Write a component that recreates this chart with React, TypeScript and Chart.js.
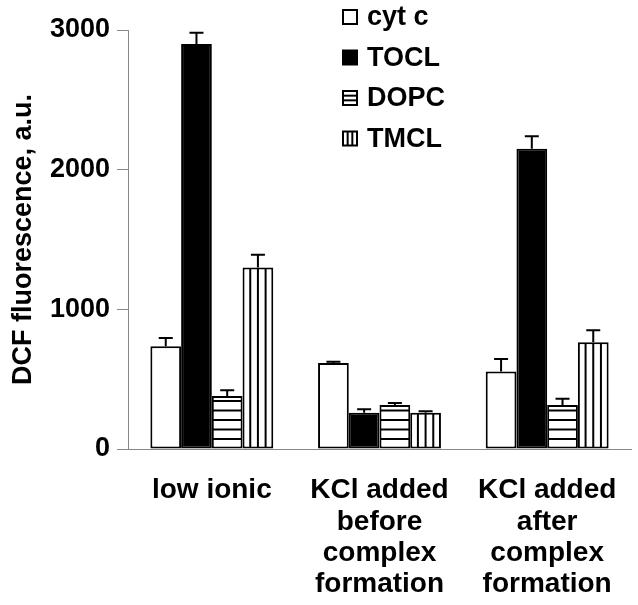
import React, { useEffect, useRef } from "react";
import { Chart, registerables } from "chart.js";
Chart.register(...registerables);

const categories: string[][] = [
  ["low ionic"],
  ["KCl added", "before", "complex", "formation"],
  ["KCl added", "after", "complex", "formation"],
];
const seriesNames = ["cyt c", "TOCL", "DOPC", "TMCL"];
const cytC = [735, 615, 555];
const tocl = [2900, 260, 2150];
const dopc = [380, 315, 315];
const tmcl = [1300, 260, 765];
const cytCErr = [60, 10, 90];
const toclErr = [80, 25, 90];
const dopcErr = [40, 15, 45];
const tmclErr = [90, 10, 85];
const yTicks = [0, 1000, 2000, 3000];
const yTitle = "DCF fluorescence, a.u.";

const FONT = "'Liberation Sans', Arial, sans-serif";
const seriesValues = [cytC, tocl, dopc, tmcl];
const seriesErrors = [cytCErr, toclErr, dopcErr, tmclErr];
const seriesFill = ["#ffffff", "#000000", "#ffffff", "#ffffff"];
const seriesHatch = ["none", "none", "h", "v"];

const decorPlugin = {
  id: "decor",
  afterDatasetsDraw(chart: any) {
    const ctx = chart.ctx;
    const yScale = chart.scales.y;
    ctx.save();
    ctx.strokeStyle = "#000";
    ctx.lineWidth = 2;
    chart.data.datasets.forEach((ds: any, di: number) => {
      const meta = chart.getDatasetMeta(di);
      meta.data.forEach((el: any, i: number) => {
        const left = el.x - el.width / 2;
        const right = el.x + el.width / 2;
        const top = el.y;
        const base = el.base;
        if (seriesHatch[di] === "h") {
          for (let y = base - 9.5; y > top + 4; y -= 9.5) {
            ctx.beginPath();
            ctx.moveTo(left + 1, y);
            ctx.lineTo(right - 1, y);
            ctx.stroke();
          }
        } else if (seriesHatch[di] === "v") {
          for (let k = 1; k < 4; k++) {
            const x = left + (el.width * k) / 4;
            ctx.beginPath();
            ctx.moveTo(x, top + 1);
            ctx.lineTo(x, base - 1);
            ctx.stroke();
          }
        }
        const err = seriesErrors[di][i];
        const yTop = yScale.getPixelForValue(seriesValues[di][i] + err);
        ctx.beginPath();
        ctx.moveTo(el.x, top);
        ctx.lineTo(el.x, yTop);
        ctx.moveTo(el.x - 7, yTop);
        ctx.lineTo(el.x + 7, yTop);
        ctx.stroke();
      });
    });
    ctx.restore();
  },
  afterDraw(chart: any) {
    const ctx = chart.ctx;
    ctx.save();
    const bx = 343;
    const bs = 14;
    ctx.font = `bold 27px ${FONT}`;
    ctx.textBaseline = "middle";
    ctx.textAlign = "left";
    seriesNames.forEach((name, i) => {
      const cy = 17 + 40.5 * i;
      const y0 = cy - bs / 2;
      ctx.fillStyle = seriesFill[i];
      ctx.fillRect(bx, y0, bs, bs);
      ctx.strokeStyle = "#000";
      ctx.lineWidth = 2;
      ctx.strokeRect(bx, y0, bs, bs);
      if (seriesHatch[i] === "h") {
        for (let k = 1; k < 3; k++) {
          ctx.beginPath();
          ctx.moveTo(bx, y0 + (bs * k) / 3);
          ctx.lineTo(bx + bs, y0 + (bs * k) / 3);
          ctx.stroke();
        }
      } else if (seriesHatch[i] === "v") {
        for (let k = 1; k < 3; k++) {
          ctx.beginPath();
          ctx.moveTo(bx + (bs * k) / 3, y0);
          ctx.lineTo(bx + (bs * k) / 3, y0 + bs);
          ctx.stroke();
        }
      }
      ctx.fillStyle = "#000";
      ctx.fillText(name, 367, cy + 1);
    });
    ctx.restore();
  },
};

export default function App() {
  const ref = useRef<HTMLCanvasElement>(null);
  useEffect(() => {
    if (!ref.current) return;
    const chart = new Chart(ref.current, {
      type: "bar",
      data: {
        labels: categories,
        datasets: seriesNames.map((name, i) => ({
          label: name,
          data: seriesValues[i],
          backgroundColor: seriesFill[i],
          borderColor: "#000",
          borderWidth: 2,
          borderSkipped: false,
          categoryPercentage: 0.733,
          barPercentage: 1.0,
        })),
      },
      options: {
        animation: false,
        responsive: false,
        devicePixelRatio: 1,
        layout: { padding: { top: 30, right: 7, left: 0, bottom: 0 } },
        plugins: { legend: { display: false }, tooltip: { enabled: false } },
        scales: {
          x: {
            grid: { display: true, drawOnChartArea: false, drawTicks: false },
            border: { display: true, color: "#888", width: 1 },
            ticks: {
              color: "#000",
              padding: 26,
              maxRotation: 0,
              autoSkip: false,
              font: { family: FONT, size: 28, weight: "bold", lineHeight: 1.12 },
            },
            afterFit: (s: any) => {
              s.height = 156;
              s.paddingLeft = 0;
              s.paddingRight = 0;
            },
          },
          y: {
            min: 0,
            max: 3000,
            afterBuildTicks: (s: any) => {
              s.ticks = yTicks.map((v) => ({ value: v }));
            },
            grid: { drawOnChartArea: false, tickLength: 11, color: "#888" },
            border: { display: true, color: "#888", width: 1 },
            ticks: {
              color: "#000",
              padding: 7,
              callback: (v: any) => String(v),
              font: { family: FONT, size: 27, weight: "bold" },
            },
            title: {
              display: true,
              text: yTitle,
              color: "#000",
              padding: { top: 7, bottom: 0 },
              font: { family: FONT, size: 27, weight: "bold" },
            },
            afterFit: (s: any) => {
              s.width = 128;
            },
          },
        },
      },
      plugins: [decorPlugin],
    } as any);
    return () => chart.destroy();
  }, []);
  return (
    <div style={{ position: "absolute", left: 0, top: 0, width: 638, height: 605, background: "#fff" }}>
      <canvas ref={ref} width={638} height={605} />
    </div>
  );
}
